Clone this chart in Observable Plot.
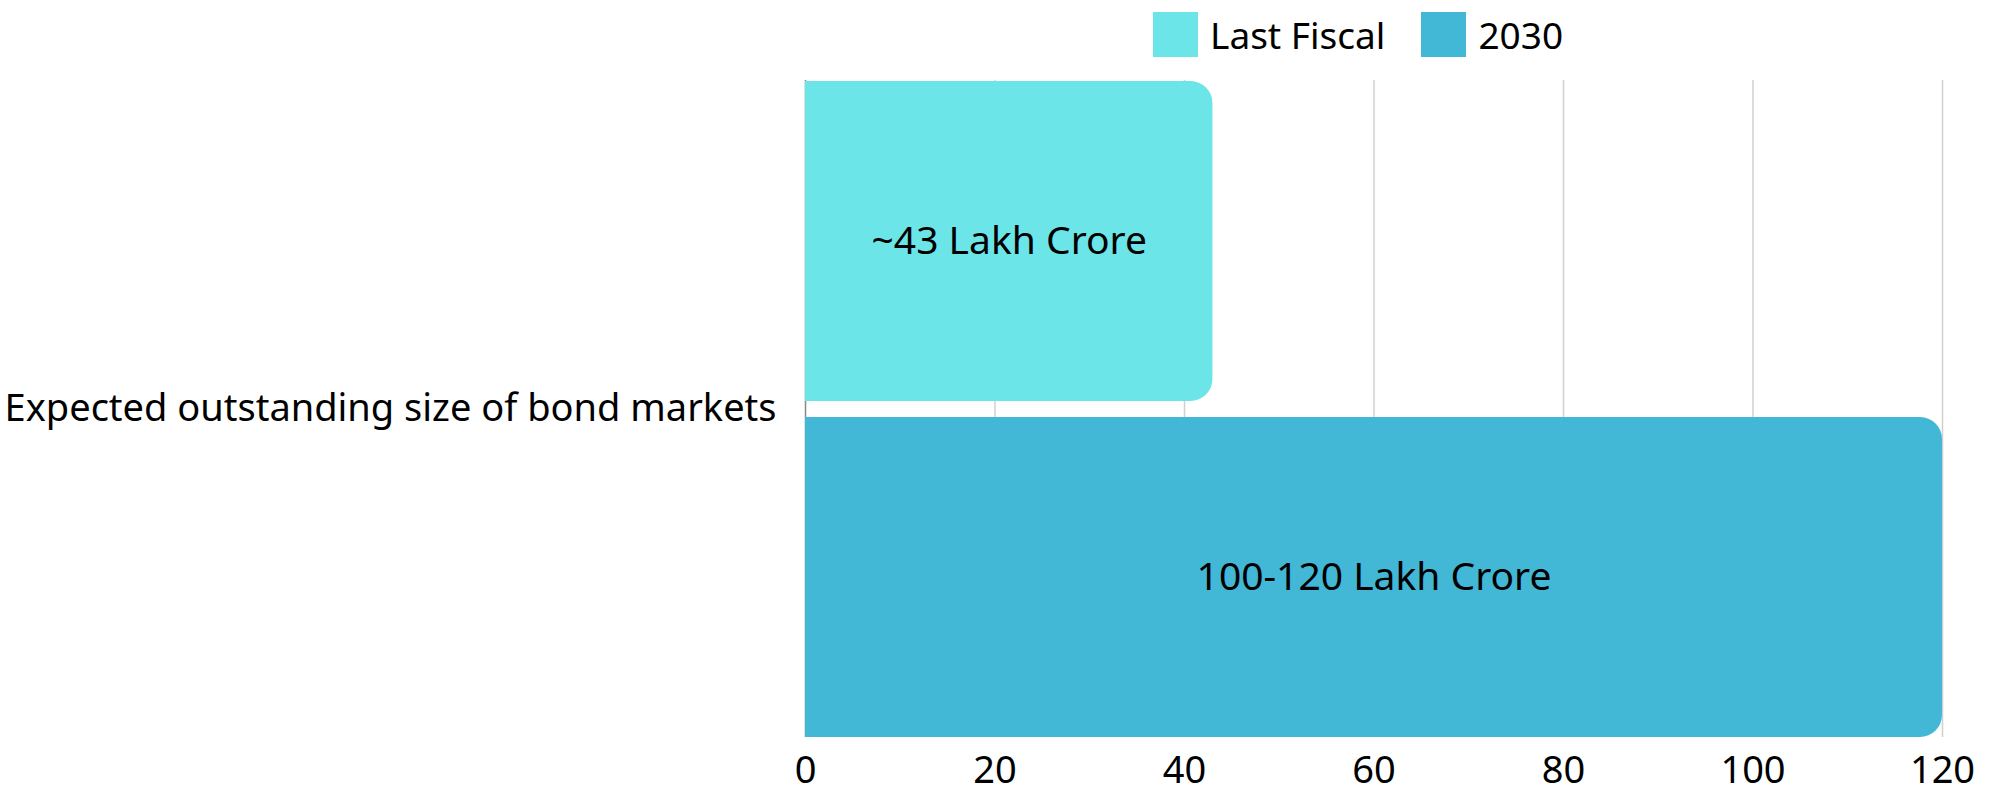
<!DOCTYPE html>
<html>
<head>
<meta charset="utf-8">
<script src="https://cdn.jsdelivr.net/npm/d3@7"></script>
<script src="https://cdn.jsdelivr.net/npm/@observablehq/plot@0.6"></script>
<style>
  html, body { margin: 0; padding: 0; background: #fff; }
  body { width: 2001px; height: 795px; overflow: hidden; font-family: "Noto Sans", sans-serif; }
  #legend { height: 70px; position: relative; display: flex; align-items: flex-start; padding-left: 1153px; padding-top: 12px; box-sizing: border-box; font-size: 37px; line-height: 45px; color: #000; }
  .item { display: flex; align-items: center; margin-right: 36px; }
  .sw { width: 45px; height: 45px; margin-right: 12px; }
  svg { display: block; }
</style>
</head>
<body>
<div id="legend"></div>
<div id="chart"></div>
<script>
const category = "Expected outstanding size of bond markets";
const series = ["Last Fiscal", "2030"];
const values = [43, 120];
const labels = ["~43 Lakh Crore", "100-120 Lakh Crore"];
const colors = ["#6be5e8", "#42b7d6"];
const xTicks = [0, 20, 40, 60, 80, 100, 120];

const data = series.map((s, i) => ({category, series: s, value: values[i], label: labels[i]}));

// Legend (HTML, above the SVG)
const legend = document.getElementById("legend");
series.forEach((s, i) => {
  const item = document.createElement("div");
  item.className = "item";
  const sw = document.createElement("div");
  sw.className = "sw";
  sw.style.background = colors[i];
  const t = document.createElement("span");
  t.textContent = s;
  item.appendChild(sw);
  item.appendChild(t);
  legend.appendChild(item);
});

const chart = Plot.plot({
  width: 2001,
  height: 725,
  marginLeft: 805,
  marginRight: 59,
  marginTop: 10,
  marginBottom: 58,
  style: {fontFamily: "Noto Sans, sans-serif", fontSize: "38px", color: "#000", background: "#fff"},
  x: {domain: [0, 120], ticks: xTicks, label: null, tickSize: 0, tickPadding: 19},
  y: {domain: series, axis: null, paddingInner: 0.048, paddingOuter: 0},
  fy: {domain: [category], axis: "left", label: null, tickSize: 0, tickPadding: 29, padding: 0},
  color: {domain: series, range: colors},
  marks: [
    Plot.gridX(xTicks.filter(d => d > 0), {stroke: "#d0d0d0", strokeOpacity: 1, strokeWidth: 1.5}),
    Plot.ruleX([0], {stroke: "#888", strokeWidth: 1.5}),
    Plot.barX(data, {fy: "category", y: "series", x: "value", fill: "series", rx: 22}),
    Plot.barX(data, {fy: "category", y: "series", x1: 0, x2: d => d.value / 2, fill: "series"}),
    Plot.text(data, {fy: "category", y: "series", x: d => d.value / 2, text: "label", fill: "#000", fontSize: 39, textAnchor: "middle"})
  ]
});
document.getElementById("chart").appendChild(chart);
</script>
</body>
</html>
